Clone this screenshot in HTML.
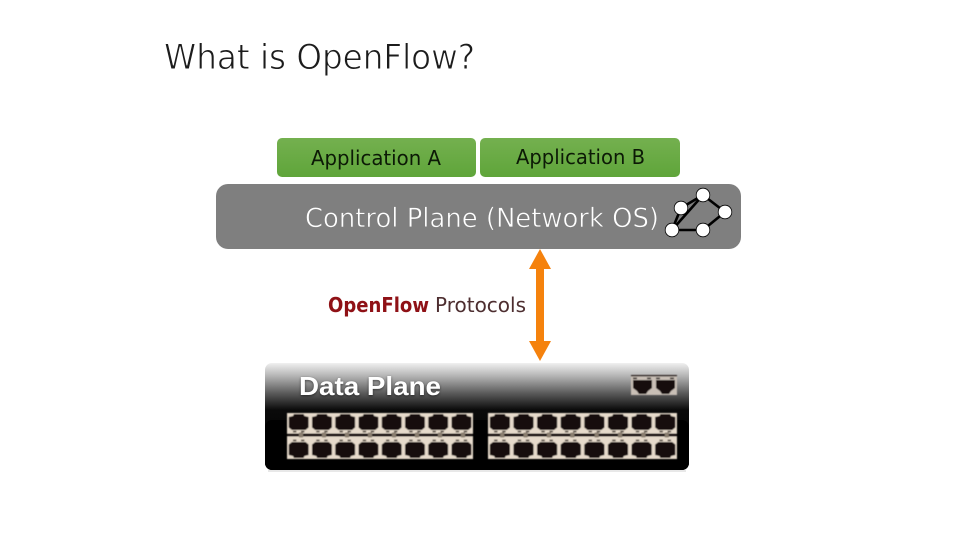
<!DOCTYPE html>
<html>
<head>
<meta charset="utf-8">
<title>What is OpenFlow?</title>
<style>
html,body{margin:0;padding:0;background:#fff;width:960px;height:540px;overflow:hidden}
svg{display:block}
text{font-family:"DejaVu Sans","Liberation Sans",sans-serif}
.thin{paint-order:normal;stroke-linejoin:round}
</style>
</head>
<body>
<svg width="960" height="540" viewBox="0 0 960 540" xmlns="http://www.w3.org/2000/svg">
<defs>
<linearGradient id="dp" x1="0" y1="0" x2="0" y2="1">
<stop offset="0" stop-color="#f0f0f0"/>
<stop offset="0.12" stop-color="#b5b5b5"/>
<stop offset="0.28" stop-color="#5c5c5c"/>
<stop offset="0.44" stop-color="#0a0a0a"/>
<stop offset="1" stop-color="#000"/>
</linearGradient>
<linearGradient id="gr" x1="0" y1="0" x2="0" y2="1">
<stop offset="0" stop-color="#74b04f"/>
<stop offset="1" stop-color="#5fa53a"/>
</linearGradient>
<filter id="soft" x="-5%" y="-5%" width="110%" height="110%"><feGaussianBlur stdDeviation="0.45"/></filter>
<filter id="glow" x="-10%" y="-30%" width="120%" height="160%"><feGaussianBlur stdDeviation="1.2"/></filter>
<g id="pt">
<polygon points="7,1 16.5,1 17.5,3 21.6,4 21.6,14.5 18.5,17 5,17 1.8,14.5 1.8,4 6,3" fill="#15100e"/>
<rect x="6" y="17.8" width="3.4" height="1.6" fill="#4a4038"/>
<rect x="14" y="17.8" width="3.4" height="1.6" fill="#4a4038"/>
</g>
<g id="panel">
<rect x="0" y="0" width="186" height="46" fill="#e6dacb"/>
<use href="#pt" x="0" y="0"/><use href="#pt" x="23.25" y="0"/><use href="#pt" x="46.5" y="0"/><use href="#pt" x="69.75" y="0"/>
<use href="#pt" x="93" y="0"/><use href="#pt" x="116.25" y="0"/><use href="#pt" x="139.5" y="0"/><use href="#pt" x="162.75" y="0"/>
<g transform="translate(0,46) scale(1,-1)">
<use href="#pt" x="0" y="0"/><use href="#pt" x="23.25" y="0"/><use href="#pt" x="46.5" y="0"/><use href="#pt" x="69.75" y="0"/>
<use href="#pt" x="93" y="0"/><use href="#pt" x="116.25" y="0"/><use href="#pt" x="139.5" y="0"/><use href="#pt" x="162.75" y="0"/>
</g>
<rect x="0" y="20.5" width="186" height="3" fill="#15100e"/>
<g fill="#8a7e70">
<rect x="12" y="19.5" width="4" height="5"/><rect x="35" y="19.5" width="4" height="5"/><rect x="58" y="19.5" width="4" height="5"/><rect x="81" y="19.5" width="4" height="5"/>
<rect x="105" y="19.5" width="4" height="5"/><rect x="128" y="19.5" width="4" height="5"/><rect x="151" y="19.5" width="4" height="5"/><rect x="174" y="19.5" width="4" height="5"/>
</g>
</g>
</defs>

<text class="thin" x="164" y="69" font-size="35" fill="#1c1c1c" stroke="#fff" stroke-width="0.9" textLength="311" lengthAdjust="spacingAndGlyphs">What is OpenFlow?</text>

<rect x="277" y="138" width="199" height="39" rx="5" fill="url(#gr)"/>
<rect x="480" y="138" width="200" height="39" rx="5" fill="url(#gr)"/>
<text x="311" y="165" font-size="20" fill="#0c1a06" textLength="130" lengthAdjust="spacingAndGlyphs">Application A</text>
<text x="516" y="164" font-size="20" fill="#0c1a06" textLength="129" lengthAdjust="spacingAndGlyphs">Application B</text>

<rect x="216" y="184" width="525" height="65" rx="12" fill="#7f7f7f"/>
<text class="thin" x="305" y="227" font-size="27" fill="#ffffff" stroke="#7f7f7f" stroke-width="0.7" textLength="354" lengthAdjust="spacingAndGlyphs">Control Plane (Network OS)</text>

<g stroke="#000" stroke-width="2.6" fill="none">
<line x1="703" y1="195" x2="681" y2="208"/>
<line x1="703" y1="195" x2="725" y2="212"/>
<line x1="703" y1="195" x2="672" y2="230"/>
<line x1="681" y1="208" x2="672" y2="230"/>
<line x1="672" y1="230" x2="703" y2="230"/>
<line x1="703" y1="230" x2="725" y2="212"/>
</g>
<g fill="#fff" stroke="#000" stroke-width="0.8">
<circle cx="703" cy="195" r="6.8"/>
<circle cx="681" cy="208" r="6.8"/>
<circle cx="725" cy="212" r="6.8"/>
<circle cx="672" cy="230" r="6.8"/>
<circle cx="703" cy="230" r="6.8"/>
</g>

<polygon points="540,249 551,269 544,269 544,341 551,341 540,361 529,341 536,341 536,269 529,269" fill="#f5820d"/>

<text x="328" y="312" font-size="20" font-weight="bold" fill="#8f1116" textLength="101" lengthAdjust="spacingAndGlyphs">OpenFlow</text>
<text x="435" y="312" font-size="20" fill="#4d2e30" textLength="91" lengthAdjust="spacingAndGlyphs">Protocols</text>

<line x1="268" y1="471" x2="686" y2="471" stroke="#d0d0d0" stroke-width="1"/>
<rect x="265" y="363" width="424" height="107" rx="7" fill="url(#dp)"/>
<rect x="265" y="420" width="424" height="50" rx="7" fill="#000"/>
<text x="299" y="396" font-size="26" font-weight="bold" fill="#000" opacity="0.55" textLength="142" lengthAdjust="spacingAndGlyphs" filter="url(#glow)" style="font-family:'Liberation Sans',sans-serif">Data Plane</text>
<text x="299" y="395" font-size="26" font-weight="bold" fill="#fff" textLength="142" lengthAdjust="spacingAndGlyphs" style="font-family:'Liberation Sans',sans-serif">Data Plane</text>

<g filter="url(#soft)">
<use href="#panel" x="287" y="413"/>
<use href="#panel" transform="translate(488,413) scale(1.016,1)"/>
<g transform="translate(631,375)">
<rect x="0" y="0" width="46" height="20" fill="#c9bfb6"/>
<rect x="0" y="0" width="46" height="1.4" fill="#2a2320"/>
<rect x="2" y="2.5" width="4" height="1.6" fill="#2a2320"/><rect x="16" y="2.5" width="4" height="1.6" fill="#2a2320"/>
<rect x="25" y="2.5" width="4" height="1.6" fill="#2a2320"/><rect x="39" y="2.5" width="4" height="1.6" fill="#2a2320"/>
<polygon points="2,5 21,5 21,13 17,16 15,19 8,19 6,16 2,13" fill="#15100e"/>
<polygon points="25,5 44,5 44,13 40,16 38,19 31,19 29,16 25,13" fill="#15100e"/>
</g>
</g>
</svg>
</body>
</html>
